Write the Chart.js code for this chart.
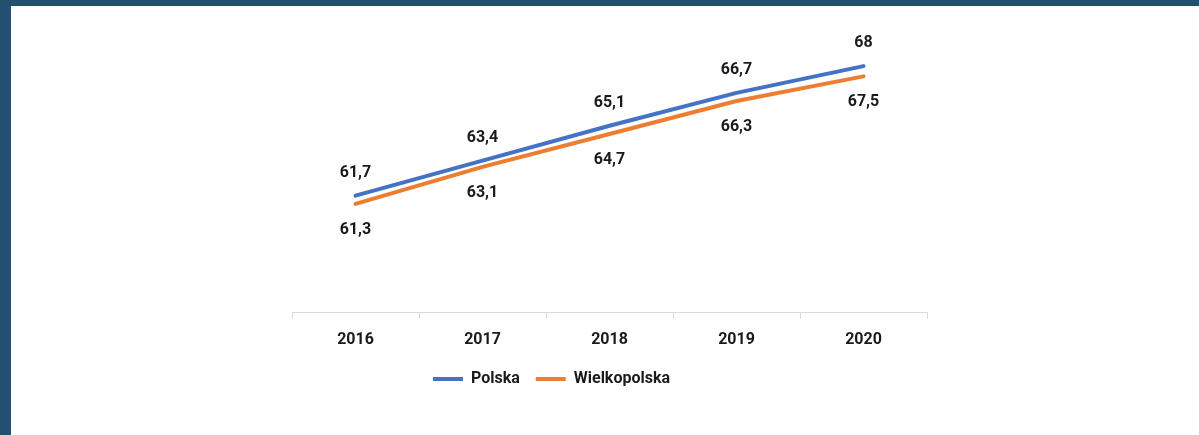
<!DOCTYPE html>
<html>
<head>
<meta charset="utf-8">
<script src="https://cdn.jsdelivr.net/npm/chart.js@4.4.0/dist/chart.umd.min.js"></script>
<style>
    html, body { margin: 0; padding: 0; }
    body { width: 1199px; height: 435px; background: #23506f; position: relative; overflow: hidden; }
    #panel { position: absolute; left: 11px; top: 6px; right: 0; bottom: 0; background: #ffffff; }
    #wrap { position: absolute; left: 0; top: 0; width: 1199px; height: 435px; }
</style>
</head>
<body>
<div id="panel"></div>
<div id="wrap"><canvas id="lineChart"></canvas></div>
<script>
// Données du graphique
const years = ['2016', '2017', '2018', '2019', '2020'];
const polska = [61.7, 63.4, 65.1, 66.7, 68];
const wielkopolska = [61.3, 63.1, 64.7, 66.3, 67.5];

const FONT = 'Roboto, "Liberation Sans", sans-serif';

// Étiquettes de valeurs (au-dessus pour Polska, en dessous pour Wielkopolska)
const valueLabels = {
    id: 'valueLabels',
    afterDatasetsDraw(chart) {
        const ctx = chart.ctx;
        ctx.save();
        ctx.font = 'bold 16px ' + FONT;
        ctx.fillStyle = '#1a1a1a';
        ctx.textAlign = 'center';
        ctx.textBaseline = 'middle';
        chart.data.datasets.forEach((ds, i) => {
            const meta = chart.getDatasetMeta(i);
            meta.data.forEach((pt, j) => {
                const txt = String(ds.data[j]).replace('.', ',');
                const dy = i === 0 ? -23 : 26;
                ctx.fillText(txt, pt.x, pt.y + dy);
            });
        });
        ctx.restore();
    }
};

// La légende est un peu décalée vers la gauche dans l'original
const legendShift = {
    id: 'legendShift',
    afterLayout(chart) {
        chart.legend.left -= 58;
        chart.legend.right -= 58;
    }
};

const ctx = document.getElementById('lineChart').getContext('2d');
new Chart(ctx, {
    type: 'line',
    data: {
        labels: years,
        datasets: [
            {
                label: 'Polska',
                data: polska,
                borderColor: '#4472c4',
                backgroundColor: '#4472c4',
                borderWidth: 4,
                pointRadius: 0,
                tension: 0,
                borderCapStyle: 'round'
            },
            {
                label: 'Wielkopolska',
                data: wielkopolska,
                borderColor: '#ed7d31',
                backgroundColor: '#ed7d31',
                borderWidth: 4,
                pointRadius: 0,
                tension: 0,
                borderCapStyle: 'round'
            }
        ]
    },
    options: {
        responsive: true,
        maintainAspectRatio: false,
        animation: false,
        layout: {
            padding: { left: 292, right: 272, top: 25, bottom: 38 }
        },
        plugins: {
            legend: {
                position: 'bottom',
                labels: {
                    color: '#1a1a1a',
                    font: { family: FONT, size: 16, weight: 'bold' },
                    usePointStyle: true,
                    pointStyle: 'line',
                    pointStyleWidth: 30,
                    boxHeight: 4,
                    padding: 16
                }
            },
            tooltip: { enabled: false }
        },
        scales: {
            y: {
                display: false,
                min: 56,
                max: 70
            },
            x: {
                offset: true,
                afterFit: function(scale) {
                    scale.height -= 7;
                },
                grid: {
                    offset: true,
                    drawOnChartArea: false,
                    drawTicks: true,
                    tickLength: 6,
                    color: '#d9d9d9'
                },
                border: { display: true, color: '#d9d9d9', width: 1 },
                ticks: {
                    color: '#1a1a1a',
                    padding: 12,
                    font: { family: FONT, size: 16, weight: 'bold' }
                }
            }
        }
    },
    plugins: [valueLabels, legendShift]
});
</script>
</body>
</html>
